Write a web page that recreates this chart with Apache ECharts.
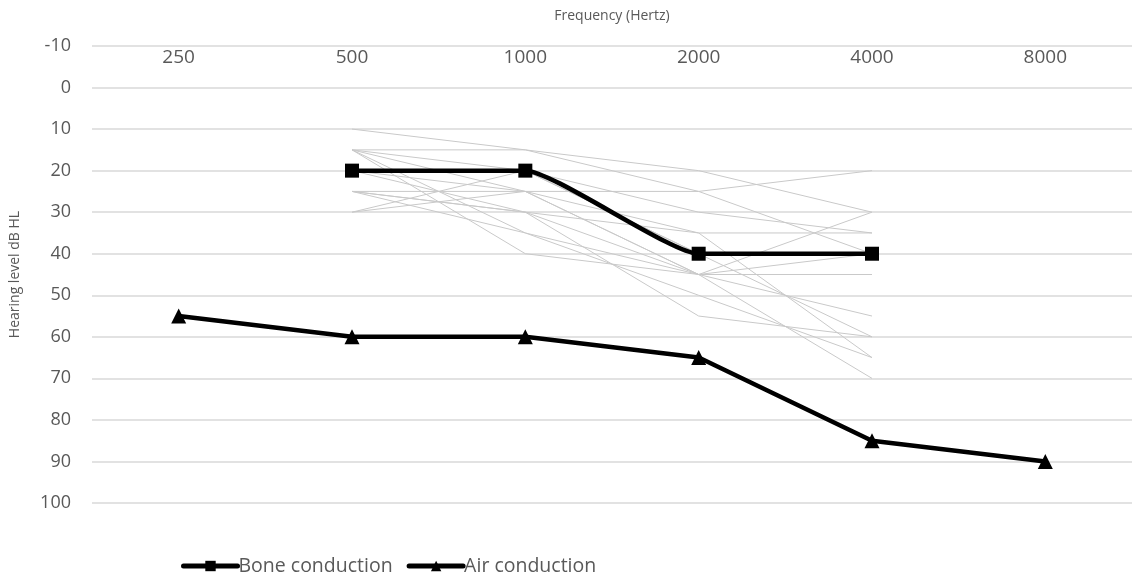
<!DOCTYPE html>
<html>
<head>
<meta charset="utf-8">
<script src="https://cdn.jsdelivr.net/npm/echarts@6/dist/echarts.min.js"></script>
<style>html,body{margin:0;padding:0;background:#fff}#c{width:1132px;height:581px}</style>
</head>
<body>
<div id="c"></div>
<script>
const frequencies = ['250', '500', '1000', '2000', '4000', '8000'];
const boneConduction = [null, 20, 20, 40, 40, null];
const airConduction = [55, 60, 60, 65, 85, 90];
// individual audiograms (500, 1000, 2000, 4000 Hz)
const patient01 = [null, 10, 15, 20, 30, null];
const patient02 = [null, 15, 15, 25, 20, null];
const patient03 = [null, 15, 20, 30, 35, null];
const patient04 = [null, 15, 25, 35, 35, null];
const patient05 = [null, 15, 35, 45, 30, null];
const patient06 = [null, 15, 40, 45, 45, null];
const patient07 = [null, 20, 20, 40, 40, null];
const patient08 = [null, 20, 25, 45, 40, null];
const patient09 = [null, 25, 25, 25, 40, null];
const patient10 = [null, 25, 30, 45, 55, null];
const patient11 = [null, 25, 35, 50, 65, null];
const patient12 = [null, 30, 20, 40, 60, null];
const patient13 = [null, 25, 30, 55, 60, null];
const patient14 = [null, 30, 25, 45, 70, null];
const patient15 = [null, 20, 30, 35, 65, null];
const patients = [patient01, patient02, patient03, patient04, patient05, patient06, patient07, patient08,
  patient09, patient10, patient11, patient12, patient13, patient14, patient15];

const FONT = '"Open Sans", "Liberation Sans", sans-serif';
const chart = echarts.init(document.getElementById('c'));
const greySeries = patients.map((p, i) => ({
  name: 'p' + (i + 1), type: 'line', data: p, symbol: 'none', silent: true, z: 1,
  lineStyle: { color: '#c9c9c9', width: 1 }, connectNulls: false, animation: false
}));
chart.setOption({
  animation: false,
  grid: { left: 90, top: 46, width: 1050, height: 457 },
  xAxis: {
    type: 'category', data: frequencies, position: 'top', boundaryGap: true,
    name: 'Frequency (Hertz)', nameLocation: 'middle', nameGap: 23,
    nameTextStyle: { color: '#595959', fontSize: 14, fontFamily: FONT, padding: [0, 0, 0, -1050 + 2 * (615 - 90)] },
    axisLine: { show: false }, axisTick: { show: false },
    axisLabel: { inside: true, margin: 2, color: '#595959', fontSize: 19, fontFamily: FONT, verticalAlign: 'top' },
    splitLine: { show: false }
  },
  yAxis: {
    type: 'value', inverse: true, min: -10, max: 100, interval: 10,
    name: 'Hearing level dB HL', nameLocation: 'middle', nameGap: 70, nameRotate: 90,
    nameTextStyle: { color: '#595959', fontSize: 14, fontFamily: FONT },
    axisLine: { show: false }, axisTick: { show: false },
    axisLabel: { color: '#595959', fontSize: 18, fontFamily: FONT, margin: 21 },
    splitLine: { lineStyle: { color: '#d9d9d9', width: 1.5 } }
  },
  legend: {
    data: ['Bone conduction', 'Air conduction'], left: 176, bottom: 0,
    itemWidth: 54, itemHeight: 13, itemGap: 14,
    lineStyle: { width: 5, cap: 'round' },
    textStyle: { color: '#595959', fontSize: 19.5, fontFamily: FONT, padding: [0, 0, 0, -4] }
  },
  series: greySeries.concat([
    {
      name: 'Bone conduction', type: 'line', data: boneConduction, smooth: 0.15, z: 5,
      symbol: 'rect', symbolSize: 14,
      lineStyle: { color: '#000', width: 4.5 }, itemStyle: { color: '#000' }
    },
    {
      name: 'Air conduction', type: 'line', data: airConduction, z: 5,
      symbol: 'triangle', symbolSize: 15,
      lineStyle: { color: '#000', width: 4.5 }, itemStyle: { color: '#000' }
    }
  ])
});
</script>
</body>
</html>
